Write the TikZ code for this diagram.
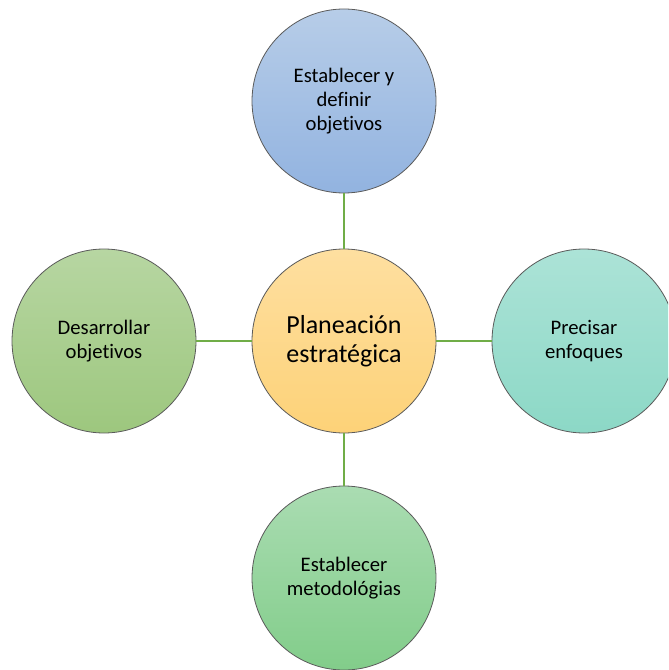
\documentclass[tikz,border=0pt]{standalone}
\usepackage{fontspec}
\setmainfont{Carlito}[RawFeature=-liga]
\definecolor{linkgreen}{HTML}{70AD47}
\definecolor{ringgray}{HTML}{5A5A5A}
\begin{document}
\begin{tikzpicture}[x=0.75pt,y=-0.75pt,
  bubble/.style={circle, draw=ringgray, line width=0.6pt, minimum size=138pt,
    inner sep=0pt, align=center, font=\fontsize{15.5}{18.2}\selectfont, text=black},
  link/.style={draw=linkgreen, line width=1.5pt}]
  \useasboundingbox (0,0) rectangle (668,670);
  \clip (0,0) rectangle (668,670);
  \coordinate (c) at (344,341);
  \node[bubble, top color={rgb,255:red,183;green,205;blue,232}, bottom color={rgb,255:red,146;green,179;blue,224}] (top) at (344,101) {Establecer y\\definir\\objetivos};
  \node[bubble, top color={rgb,255:red,183;green,214;blue,162}, bottom color={rgb,255:red,157;green,199;blue,126}] (left) at (104,341) {Desarrollar\\objetivos};
  \node[bubble, top color={rgb,255:red,172;green,227;blue,215}, bottom color={rgb,255:red,140;green,216;blue,198}] (right) at (584,341) {Precisar\\enfoques};
  \node[bubble, top color={rgb,255:red,170;green,220;blue,178}, bottom color={rgb,255:red,130;green,205;blue,138}] (bottom) at (344,578) {Establecer\\metodológias};
  \node[bubble, top color={rgb,255:red,254;green,223;blue,160}, bottom color={rgb,255:red,253;green,210;blue,120},
    font=\fontsize{19.5}{21.5}\selectfont] (center) at (c) {Planeación\\estratégica};
  % green spokes from the hub to each outer circle
  \draw[link] (center.north) -- (top.south);
  \draw[link] (center.south) -- (bottom.north);
  \draw[link] (center.west) -- (left.east);
  \draw[link] (center.east) -- (right.west);
\end{tikzpicture}
\end{document}
